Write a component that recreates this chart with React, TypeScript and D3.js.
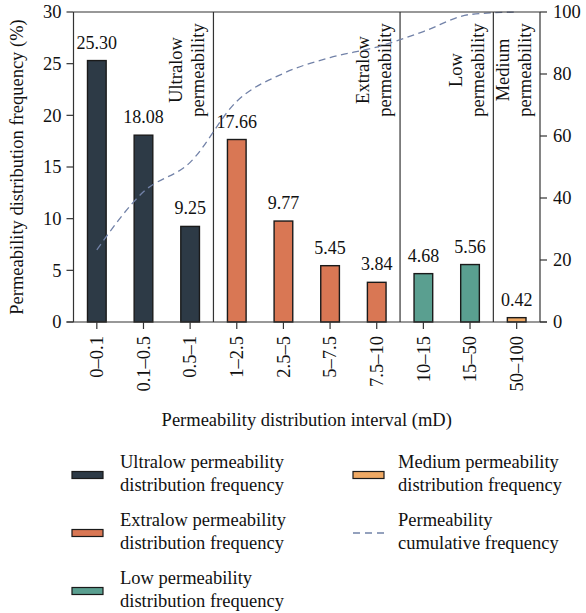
import React from "react";
import * as d3 from "d3";

// Permeability intervals (mD) and the share of samples in each
const categories = ["0–0.1", "0.1–0.5", "0.5–1", "1–2.5", "2.5–5", "5–7.5", "7.5–10", "10–15", "15–50", "50–100"];
const frequency = [25.3, 18.08, 9.25, 17.66, 9.77, 5.45, 3.84, 4.68, 5.56, 0.42];
const classOf = ["ultralow", "ultralow", "ultralow", "extralow", "extralow", "extralow", "extralow", "low", "low", "medium"];
const cumulative = [23.3, 42.0, 51.5, 71.2, 80.2, 85.3, 88.7, 93.7, 99.2, 100];

const leftTicks = [0, 5, 10, 15, 20, 25, 30];
const rightTicks = [0, 20, 40, 60, 80, 100];

const classes = ["ultralow", "extralow", "low", "medium"];
const classColor: Record<string, string> = {
  ultralow: "#2d3a46",
  extralow: "#d97754",
  low: "#5a9f90",
  medium: "#efa964",
};
const regionLabel: Record<string, string[]> = {
  ultralow: ["Ultralow", "permeability"],
  extralow: ["Extralow", "permeability"],
  low: ["Low", "permeability"],
  medium: ["Medium", "permeability"],
};
const legendItems = [
  { key: "ultralow", lines: ["Ultralow permeability", "distribution frequency"] },
  { key: "extralow", lines: ["Extralow permeability", "distribution frequency"] },
  { key: "low", lines: ["Low permeability", "distribution frequency"] },
  { key: "medium", lines: ["Medium permeability", "distribution frequency"] },
  { key: "cumulative", lines: ["Permeability", "cumulative frequency"] },
];

const W = 586;
const H = 613;
const M = { left: 73.5, right: 540, top: 12, bottom: 322 };
const FONT = "'Liberation Serif', 'Times New Roman', serif";
const AXIS = "#333";
const LINE = "#7282a8";

export default function App() {
  const x = d3.scaleBand<string>().domain(categories).range([M.left, M.right]).paddingInner(0).paddingOuter(0);
  const yL = d3.scaleLinear().domain([0, 30]).range([M.bottom, M.top]);
  const yR = d3.scaleLinear().domain([0, 100]).range([M.bottom, M.top]);
  const bw = x.bandwidth();
  const barW = bw * 0.4;
  const cx = (c: string) => (x(c) as number) + bw / 2;

  const linePath = d3
    .line<number>()
    .x((_, i) => cx(categories[i]))
    .y((d) => yR(d))
    .curve(d3.curveMonotoneX)(cumulative) as string;

  // region boundaries: right edge of the last interval of each class
  const regions = classes.map((k) => {
    const idx = classOf.map((c, i) => (c === k ? i : -1)).filter((i) => i >= 0);
    const right = (x(categories[idx[idx.length - 1]]) as number) + bw;
    return { key: k, right };
  });

  const fs = 18.5;

  return (
    <svg width={W} height={H} style={{ position: "absolute", left: 0, top: 0, background: "#fff" }} fontFamily={FONT}>
      <rect x={0} y={0} width={W} height={H} fill="#fff" />

      {/* separators between permeability classes */}
      {regions.slice(0, -1).map((r) => (
        <line key={r.key} x1={r.right} x2={r.right} y1={M.top} y2={M.bottom} stroke={AXIS} strokeWidth={1.2} />
      ))}

      {/* class labels */}
      {regions.map((r) => {
        const [a, b] = regionLabel[r.key];
        return (
          <g key={r.key} fontSize={fs} fill="#111" textAnchor="middle">
            <text transform={`translate(${r.right - 31},70) rotate(-90)`}>{a}</text>
            <text transform={`translate(${r.right - 9},70) rotate(-90)`}>{b}</text>
          </g>
        );
      })}

      {/* bars */}
      {categories.map((c, i) => (
        <rect
          key={c}
          x={cx(c) - barW / 2}
          y={yL(frequency[i])}
          width={barW}
          height={yL(0) - yL(frequency[i])}
          fill={classColor[classOf[i]]}
          stroke="#1a1a1a"
          strokeWidth={1.4}
        />
      ))}

      {/* value labels */}
      {categories.map((c, i) => (
        <text key={c} x={cx(c)} y={yL(frequency[i]) - 12} textAnchor="middle" fontSize={18} fill="#111">
          {frequency[i].toFixed(2)}
        </text>
      ))}

      {/* cumulative curve */}
      <path d={linePath} fill="none" stroke={LINE} strokeWidth={1.3} strokeDasharray="7,4.5" />

      {/* frame */}
      <line x1={M.left} x2={M.right} y1={M.top} y2={M.top} stroke={AXIS} strokeWidth={1.2} />
      <line x1={M.left - 7} x2={M.right + 7} y1={M.bottom} y2={M.bottom} stroke={AXIS} strokeWidth={1.2} />
      <line x1={M.left} x2={M.left} y1={M.top} y2={M.bottom} stroke={AXIS} strokeWidth={1.2} />
      <line x1={M.right} x2={M.right} y1={M.top} y2={M.bottom} stroke={AXIS} strokeWidth={1.2} />

      {/* left axis */}
      {leftTicks.map((t) => (
        <g key={t}>
          <line x1={M.left - 7} x2={M.left} y1={yL(t)} y2={yL(t)} stroke={AXIS} strokeWidth={1.2} />
          <text x={M.left - 12} y={yL(t)} dy="0.34em" textAnchor="end" fontSize={fs} fill="#111">
            {t}
          </text>
        </g>
      ))}

      {/* right axis */}
      {rightTicks.map((t) => (
        <g key={t}>
          <line x1={M.right} x2={M.right + 7} y1={yR(t)} y2={yR(t)} stroke={AXIS} strokeWidth={1.2} />
          <text x={M.right + 13} y={yR(t)} dy="0.34em" textAnchor="start" fontSize={fs} fill="#111">
            {t}
          </text>
        </g>
      ))}

      {/* bottom axis */}
      {categories.map((c) => (
        <g key={c}>
          <line x1={cx(c)} x2={cx(c)} y1={M.bottom} y2={M.bottom + 7} stroke={AXIS} strokeWidth={1.2} />
          <text
            transform={`translate(${cx(c)},${M.bottom + 14}) rotate(-90)`}
            dy="0.34em"
            textAnchor="end"
            fontSize={fs}
            fill="#111"
          >
            {c}
          </text>
        </g>
      ))}

      {/* axis titles */}
      <text x={(M.left + M.right) / 2} y={426} textAnchor="middle" fontSize={fs} fill="#111">
        Permeability distribution interval (mD)
      </text>
      <text transform={`translate(23,${(M.top + M.bottom) / 2}) rotate(-90)`} textAnchor="middle" fontSize={fs} fill="#111">
        Permeability distribution frequency (%)
      </text>

      {/* legend */}
      {legendItems.map((it, i) => {
        const col = i < 3 ? 0 : 1;
        const row = i < 3 ? i : i - 3;
        const sx = col === 0 ? 72 : 353;
        const tx = col === 0 ? 120 : 398;
        const cy = 475 + row * 58;
        return (
          <g key={it.key}>
            {it.key === "cumulative" ? (
              <line x1={sx} x2={sx + 31} y1={cy} y2={cy} stroke={LINE} strokeWidth={1.3} strokeDasharray="7,5" />
            ) : (
              <rect x={sx} y={cy - 3.5} width={31} height={7} fill={classColor[it.key]} stroke="#1a1a1a" strokeWidth={1.2} />
            )}
            <text x={tx} y={cy - 7} fontSize={fs} fill="#111">
              {it.lines[0]}
            </text>
            <text x={tx} y={cy + 16} fontSize={fs} fill="#111">
              {it.lines[1]}
            </text>
          </g>
        );
      })}
    </svg>
  );
}
